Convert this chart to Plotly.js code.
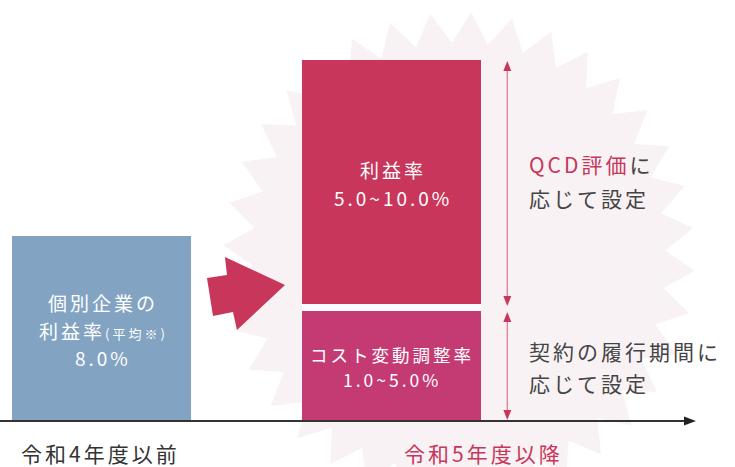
<!DOCTYPE html>
<html>
<head>
<meta charset="utf-8">
<script src="https://cdn.plot.ly/plotly-3.0.1.min.js"></script>
<style>
html,body{margin:0;padding:0;background:#fff;}
#chart{width:735px;height:467px;}
.annotation-text{letter-spacing:3px;}
</style>
</head>
<body>
<div id="chart"></div>
<script>
// ---- data (visual heights, in % units where the left bar = 8.0) ----
const categories = ['令和4年度以前', '令和5年度以降'];
const prevProfit = [8.0, null];     // 個別企業の利益率(平均※)
const costAdjust = [null, 4.76];    // コスト変動調整率 1.0~5.0%
const spacer     = [null, 0.29];    // white gap between the stacked blocks
const newProfit  = [null, 10.58];   // 利益率 5.0~10.0%

const labelPrev   = ['個別企業の', '利益率<span style="font-size:13px">(平均※)</span>', '8.0%'];
const labelProfit = ['利益率', '5.0~10.0%'];
const labelCost   = ['コスト変動調整率', '1.0~5.0%'];
const noteProfit  = ['<span style="color:#c8365a">QCD評価</span>に', '応じて設定'];
const noteCost    = ['契約の履行期間に', '応じて設定'];

// ---- helpers for decorative placement (pixel -> paper) ----
const W = 735, H = 467;
const px = x => x / W;
const py = y => 1 - y / H;
const FONT = '"Noto Sans CJK JP", "Noto Sans", sans-serif';

const cBlue = '#82a3c2', cRed = '#c9365b', cMag = '#c43a72';

const traces = [
  {type:'bar', x:categories, y:prevProfit, width:0.615, marker:{color:cBlue}, hoverinfo:'skip'},
  {type:'bar', x:categories, y:costAdjust, width:0.615, marker:{color:cMag}, hoverinfo:'skip'},
  {type:'bar', x:categories, y:spacer, width:0.615, marker:{color:'rgba(255,255,255,0.85)'}, hoverinfo:'skip'},
  {type:'bar', x:categories, y:newProfit, width:0.615, marker:{color:cRed}, hoverinfo:'skip'}
];

// starburst background
function starPath(cx, cy, rx, ry, rin, n, rot) {
  let d = '';
  for (let i = 0; i < 2 * n; i++) {
    const a = (rot + i * 180 / n) * Math.PI / 180;
    const k = (i % 2 === 0) ? 1 : rin;
    const x = cx + rx * k * Math.cos(a), y = cy + ry * k * Math.sin(a);
    d += (i === 0 ? 'M' : 'L') + px(x).toFixed(4) + ',' + py(y).toFixed(4);
  }
  return d + 'Z';
}

function tri(p) {
  return 'M' + p.map(q => px(q[0]).toFixed(4) + ',' + py(q[1]).toFixed(4)).join('L') + 'Z';
}

const arrowBlock = [[207,278],[227,275],[225,257],[285,285],[237,330],[233,312],[213,316]];
const ax = 507.3, aLine = '#dc7f98', aHead = '#c9365b';

const shapes = [
  {type:'path', xref:'paper', yref:'paper', layer:'below', path:starPath(459, 258, 236, 246, 0.875, 36, -87), fillcolor:'#f8f2f4', line:{width:0}},
  {type:'path', xref:'paper', yref:'paper', path:tri(arrowBlock), fillcolor:cRed, line:{width:0}},
  // axis
  {type:'line', xref:'paper', yref:'paper', x0:0, x1:px(686), y0:py(421), y1:py(421), line:{color:'#333', width:2}},
  {type:'path', xref:'paper', yref:'paper', path:tri([[696,421],[684,416.5],[684,425.5]]), fillcolor:'#222', line:{width:0}},
  // double arrow (profit)
  {type:'line', xref:'paper', yref:'paper', x0:px(ax), x1:px(ax), y0:py(66), y1:py(302), line:{color:aLine, width:1.3}},
  {type:'path', xref:'paper', yref:'paper', path:tri([[ax,61],[ax-4,71],[ax+4,71]]), fillcolor:aHead, line:{width:0}},
  {type:'path', xref:'paper', yref:'paper', path:tri([[ax,306],[ax-4,296],[ax+4,296]]), fillcolor:aHead, line:{width:0}},
  // double arrow (cost)
  {type:'line', xref:'paper', yref:'paper', x0:px(ax), x1:px(ax), y0:py(316), y1:py(416), line:{color:aLine, width:1.3}},
  {type:'path', xref:'paper', yref:'paper', path:tri([[ax,312],[ax-4,322],[ax+4,322]]), fillcolor:aHead, line:{width:0}},
  {type:'path', xref:'paper', yref:'paper', path:tri([[ax,420],[ax-4,410],[ax+4,410]]), fillcolor:aHead, line:{width:0}}
];

function ann(text, x, y, size, color, xanchor) {
  return {text:text, xref:'paper', yref:'paper', x:px(x), y:py(y), xanchor:xanchor || 'center', yanchor:'middle',
          showarrow:false, align:xanchor === 'left' ? 'left' : 'center', font:{family:FONT, size:size, color:color}};
}

const annotations = [
  ann(labelPrev[0], 103, 302, 19, '#ffffff'),
  ann(labelPrev[1], 103, 330, 19, '#ffffff'),
  ann(labelPrev[2], 103, 357, 19, '#ffffff'),
  ann(labelProfit[0], 393, 169, 19, '#ffffff'),
  ann(labelProfit[1], 393, 197, 19, '#ffffff'),
  ann(labelCost[0], 392, 354, 17.5, '#ffffff'),
  ann(labelCost[1], 392, 379, 17.5, '#ffffff'),
  ann(noteProfit[0], 527, 164, 21, '#444444', 'left'),
  ann(noteProfit[1], 527, 198, 21, '#444444', 'left'),
  ann(noteCost[0], 527, 351, 21, '#444444', 'left'),
  ann(noteCost[1], 527, 383, 21, '#444444', 'left'),
  ann(categories[0], 100, 453, 21, '#333333'),
  ann(categories[1], 483, 453, 21, '#c9365b')
];

const layout = {
  width:W, height:H,
  margin:{l:0, r:0, t:0, b:0},
  paper_bgcolor:'#ffffff', plot_bgcolor:'rgba(0,0,0,0)',
  barmode:'stack', showlegend:false,
  xaxis:{type:'category', range:[-0.35, 2.1845], showticklabels:false, showgrid:false, zeroline:false, showline:false, fixedrange:true},
  yaxis:{range:[-2.016, 18.235], showticklabels:false, showgrid:false, zeroline:false, showline:false, fixedrange:true},
  shapes:shapes,
  annotations:annotations
};

Plotly.newPlot('chart', traces, layout, {displayModeBar:false, staticPlot:true});
</script>
</body>
</html>
